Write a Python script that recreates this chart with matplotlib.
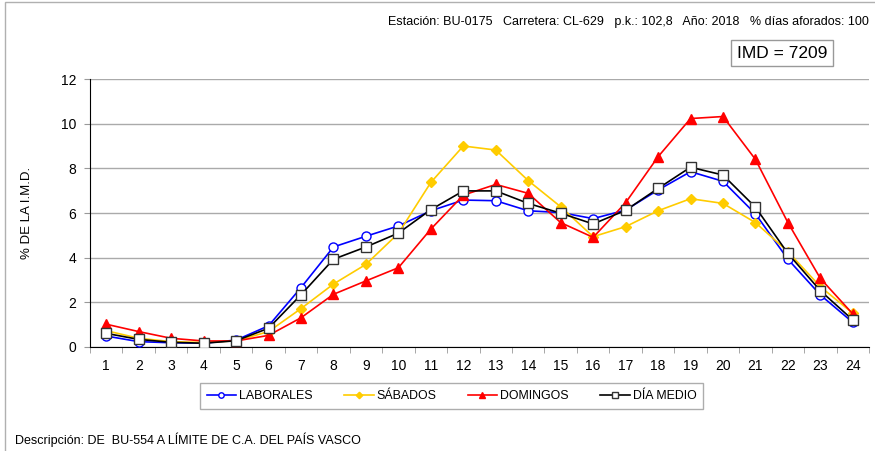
import numpy as np
import matplotlib
matplotlib.use('Agg')
from matplotlib import pyplot as plt
from matplotlib.patches import Rectangle

plt.rcParams['font.family'] = ['Liberation Sans', 'DejaVu Sans']

horas = list(range(1, 25))
laborales = [0.49, 0.24, 0.19, 0.17, 0.31, 0.95, 2.66, 4.48, 4.96, 5.42, 6.10, 6.58,
             6.55, 6.10, 6.02, 5.75, 6.13, 7.03, 7.85, 7.42, 5.96, 3.93, 2.33, 1.10]
sabados = [0.73, 0.39, 0.24, 0.20, 0.28, 0.69, 1.72, 2.82, 3.70, 5.09, 7.37, 9.00,
           8.82, 7.45, 6.28, 4.94, 5.39, 6.10, 6.64, 6.43, 5.57, 4.27, 2.70, 1.51]
domingos = [1.02, 0.69, 0.39, 0.27, 0.27, 0.52, 1.31, 2.36, 2.96, 3.55, 5.28, 6.80,
            7.28, 6.88, 5.57, 4.91, 6.46, 8.52, 10.23, 10.32, 8.40, 5.57, 3.07, 1.48]
dia_medio = [0.61, 0.34, 0.21, 0.17, 0.28, 0.84, 2.34, 3.93, 4.48, 5.10, 6.15, 6.99,
             6.99, 6.43, 5.99, 5.51, 6.12, 7.10, 8.05, 7.70, 6.26, 4.19, 2.52, 1.21]

fig = plt.figure(figsize=(8.75, 4.51), dpi=100)
ax = fig.add_axes([0.1029, 0.2306, 0.8903, 0.5942])

# marco exterior
fig.patches.append(Rectangle((0.006, -0.01), 1.2, 1.006, transform=fig.transFigure,
                             fill=False, edgecolor='#b0b0b0', lw=1))

ax.plot(horas, laborales, color='#0000ff', lw=1.2, marker='o', ms=6.5,
        markerfacecolor='white', markeredgecolor='#0000ff', label='LABORALES', zorder=3)
ax.plot(horas, sabados, color='#ffcc00', lw=1.2, marker='D', ms=5.5,
        markerfacecolor='#ffcc00', markeredgecolor='#ffcc00', label='SÁBADOS', zorder=3)
ax.plot(horas, domingos, color='#ff0000', lw=1.2, marker='^', ms=7.5,
        markerfacecolor='#ff0000', markeredgecolor='#ff0000', label='DOMINGOS', zorder=3)
ax.plot(horas, dia_medio, color='black', lw=1.2, marker='s', ms=6.5,
        markerfacecolor='white', markeredgecolor='#333333', label='DÍA MEDIO', zorder=4)

ax.set_xlim(0.5, 24.5)
ax.set_ylim(0, 12)
ax.set_yticks([0, 2, 4, 6, 8, 10, 12])
ax.set_xticks(horas)
ax.set_xticks(np.arange(0.5, 25, 1), minor=True)
ax.tick_params(axis='x', which='major', length=0, labelsize=10, pad=9)
ax.tick_params(axis='x', which='minor', length=4, color='#999999', direction='out')
ax.tick_params(axis='y', length=4, color='#999999', labelsize=10, pad=6)
ax.grid(axis='y', color='#aaaaaa', lw=1)
ax.set_axisbelow(True)
for s in ['top', 'right']:
    ax.spines[s].set_visible(False)
ax.spines['left'].set_color('black')
ax.spines['bottom'].set_color('black')
ax.set_ylabel('% DE LA I.M.D.', fontsize=9.5, labelpad=20)

leg = fig.legend(loc='center', bbox_to_anchor=(0.516, 0.122), ncol=4, fontsize=8.9,
                 frameon=True, fancybox=False, edgecolor='#999999', handlelength=2.4,
                 columnspacing=2.5, handletextpad=0.25, borderpad=0.55, markerscale=0.6)
leg.get_frame().set_linewidth(1)

fig.text(0.993, 0.951, 'Estación: BU-0175   Carretera: CL-629   p.k.: 102,8   Año: 2018   % días aforados: 100',
         ha='right', va='center', fontsize=9)
fig.text(0.894, 0.882, 'IMD = 7209', ha='center', va='center', fontsize=12.5,
         bbox=dict(boxstyle='square,pad=0.33', facecolor='white', edgecolor='#999999', lw=1))
fig.text(0.017, 0.024, 'Descripción: DE  BU-554 A LÍMITE DE C.A. DEL PAÍS VASCO',
         ha='left', va='center', fontsize=9)

plt.savefig('out.png', dpi=100)
